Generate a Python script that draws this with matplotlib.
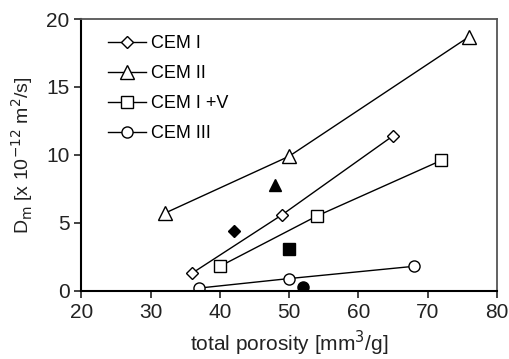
import matplotlib
matplotlib.use("Agg")
import matplotlib.pyplot as plt

plt.rcParams['font.family'] = ['Liberation Sans', 'DejaVu Sans']

# series data (total porosity, Dm)
cem1_x = [36, 49, 65]
cem1_y = [1.3, 5.6, 11.4]
cem2_x = [32, 50, 76]
cem2_y = [5.7, 9.9, 18.7]
cem1v_x = [40, 54, 72]
cem1v_y = [1.8, 5.5, 9.6]
cem3_x = [37, 50, 68]
cem3_y = [0.2, 0.9, 1.8]

# filled single points
filled_x = [42, 48, 50, 52]
filled_y = [4.4, 7.8, 3.1, 0.3]
filled_markers = ['D', '^', 's', 'o']
filled_sizes = [6, 9, 8, 8]

fig = plt.figure(figsize=(5.09, 3.59), dpi=100)
ax = fig.add_axes([0.160, 0.190, 0.816, 0.757])

kw = dict(color='black', lw=1.0, markerfacecolor='white', markeredgecolor='black', markeredgewidth=1.0)
ax.plot(cem1_x, cem1_y, marker='D', markersize=6, label='CEM I', **kw)
ax.plot(cem2_x, cem2_y, marker='^', markersize=9.5, label='CEM II', **kw)
ax.plot(cem1v_x, cem1v_y, marker='s', markersize=8.5, label='CEM I +V', **kw)
ax.plot(cem3_x, cem3_y, marker='o', markersize=8, label='CEM III', **kw)

for x, y, m, s in zip(filled_x, filled_y, filled_markers, filled_sizes):
    ax.plot([x], [y], marker=m, markersize=s, color='black', linestyle='none')

ax.set_xlim(20, 80)
ax.set_ylim(0, 20)
ax.set_xticks([20, 30, 40, 50, 60, 70, 80])
ax.set_yticks([0, 5, 10, 15, 20])
ax.tick_params(labelsize=15, direction='out', length=5, width=1.2, colors='#222222')
ax.tick_params(axis='x', pad=4)
ax.spines['left'].set_linewidth(1.5)
ax.spines['bottom'].set_linewidth(1.5)
ax.spines['top'].set_color('#555555')
ax.spines['right'].set_color('#555555')
ax.spines['top'].set_linewidth(1.3)
ax.spines['right'].set_linewidth(1.3)

ax.set_xlabel('total porosity [mm$^3$/g]', fontsize=15, labelpad=5, color='#222222')
ax.set_ylabel('D$_{\\mathrm{m}}$ [x 10$^{-12}$ m$^2$/s]', fontsize=14, labelpad=8, color='#222222')

ax.legend(loc='upper left', frameon=False, fontsize=13, handlelength=2.1,
          handletextpad=0.3, labelspacing=0.72, borderaxespad=0,
          bbox_to_anchor=(0.046, 0.968))

fig.savefig('out.png', dpi=100)
